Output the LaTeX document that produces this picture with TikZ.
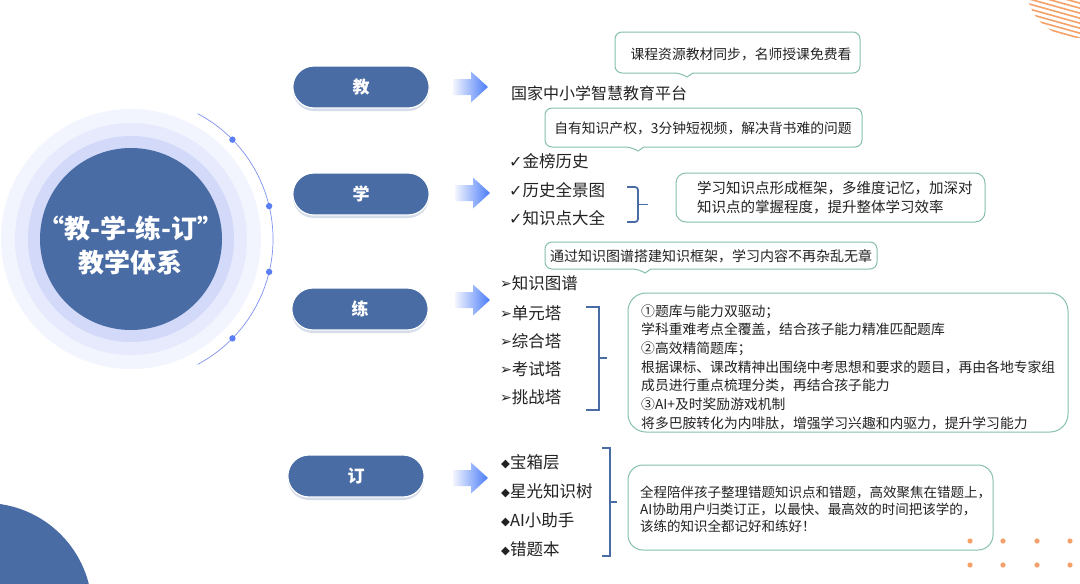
\documentclass[tikz,border=0pt]{standalone}
\usepackage{fontspec}
\setmainfont{Noto Sans CJK SC}
\newfontfamily\fuhao{DejaVu Sans}
\usetikzlibrary{positioning, shapes.misc, shadows}

\definecolor{zhulan}{HTML}{4A6CA5}
\definecolor{huan1}{HTML}{F3F5FE}
\definecolor{huan2}{HTML}{E6EAFC}
\definecolor{huan3}{HTML}{D2D9F9}
\definecolor{hulan}{HTML}{7F92EE}
\definecolor{dianlan}{HTML}{5B7EF2}
\definecolor{jtqian}{HTML}{F2F5FE}
\definecolor{jtshen}{HTML}{4A7CF8}
\definecolor{kuang}{HTML}{86BFAE}
\definecolor{wenzi}{HTML}{222222}
\definecolor{chengse}{HTML}{F5A26A}

\newcommand{\gou}{{\fuhao\fontsize{16}{16}\selectfont ✓}}
\newcommand{\jian}{{\fuhao\fontsize{14}{16}\selectfont\raisebox{0.5pt}{➢}}}
\newcommand{\ling}{{\fuhao\fontsize{11.5}{16}\selectfont\raisebox{1pt}{◆}}}

% 渐变箭头：起点x，中心y
\newcommand{\jiantou}[2]{%
  \shade[left color=jtqian, right color=jtshen]
    (#1,#2-8) -- (#1+18,#2-8) -- (#1+18,#2-15.5) -- (#1+35,#2)
    -- (#1+18,#2+15.5) -- (#1+18,#2+8) -- (#1,#2+8) -- cycle;}

% 气泡框：x1,y1,x2,y2,尖角x
\newcommand{\qipao}[5]{%
  \draw[kuangxian, fill=white] (#5+6,#4) [rounded corners=7pt] -- (#3,#4) -- (#3,#2)
    -- (#1,#2) -- (#1,#4) -- (#5-6,#4) [sharp corners] -- (#5,#4+4) -- cycle;}

\tikzset{
  yuanjiao/.style={rounded rectangle, fill=zhulan, draw=white, line width=1.2pt,
    minimum width=143pt, minimum height=42pt, text=white,
    font=\fontsize{17}{20}\selectfont\bfseries,
    drop shadow={shadow xshift=0pt, shadow yshift=-3pt, fill=zhulan!45, opacity=.5}},
  liebiao/.style={anchor=west, inner sep=0pt, text=wenzi, font=\fontsize{16.5}{20}\selectfont},
  kuangxian/.style={draw=kuang, line width=1pt},
  kuohao/.style={draw=zhulan, line width=1.8pt},
  tishi/.style={inner sep=0pt, text=wenzi, font=\fontsize{13.8}{17}\selectfont},
  shuoming/.style={anchor=west, inner sep=0pt, align=left, text=wenzi}
}

\begin{document}
\begin{tikzpicture}[x=1pt, y=-1pt]
  \useasboundingbox (0,0) rectangle (1080,584);
  \clip (0,0) rectangle (1080,584);
  \fill[white] (0,0) rectangle (1080,584);

  % 角上的装饰
  \begin{scope}
    \clip (1078,-14) circle (52);
    \foreach \k in {0,...,20}
      \draw[chengse, line width=1.6pt] (1015,{-45+5*\k}) -- (1140,{-45+5*\k+35});
  \end{scope}
  \fill[zhulan] (-15,610) circle (107);
  \foreach \hx in {970,1003,1037,1070}
    \foreach \hy in {541,565}
      \fill[chengse] (\hx,\hy) circle (2.6);

  % 左侧圆
  \fill[huan1] (131,239) circle (130);
  \fill[huan2] (131,239) circle (116);
  \fill[huan3] (131,239) circle (103);
  \fill[zhulan] (131,239) circle (91);
  \node[text=white, align=center, font=\fontsize{26}{34}\selectfont\bfseries] (zhuti) at (131,245)
    {“教-学-练-订”\\教学体系};
  \draw[hulan, line width=0.7pt] (131,239) ++(-62:142) arc[start angle=-62, end angle=62, radius=142];
  \foreach \jd in {-44.4,-13.4,13.4,44.4}
    \fill[dianlan] (131,239) ++(\jd:142) circle (3.2);

  % 四个环节
  \node[yuanjiao] (jiao) at (361,87) {教};
  \node[yuanjiao] (xue) at (361,194) {学};
  \node[yuanjiao] (lian) at (360,309) {练};
  \node[yuanjiao] (ding) at (356,476) {订};

  \jiantou{453}{87}
  \jiantou{455}{193}
  \jiantou{455}{300}
  \jiantou{453}{478}

  % 教
  \qipao{615}{32}{860}{73}{687}
  \node[tishi] (qp1) at (741,54) {课程资源教材同步，名师授课免费看};
  \node[liebiao, font=\fontsize{16}{20}\selectfont] (pingtai) at (511,93) {国家中小学智慧教育平台};

  % 学
  \qipao{545}{108}{862}{147}{638}
  \node[tishi] (qp2) at (703,128) {自有知识产权，3分钟短视频，解决背书难的问题};
  \node[liebiao] (jbls) at (509,161) {\gou 金榜历史};
  \node[liebiao] (lsqjt) at (509,190) {\gou 历史全景图};
  \node[liebiao] (zsddq) at (509,218) {\gou 知识点大全};
  \draw[kuohao, rounded corners=3pt] (627,187) -- (638,187) -- (638,222) -- (627,222);
  \draw[kuohao] (638,204.5) -- (648,204.5);
  \draw[kuangxian, rounded corners=10pt] (676,173) rectangle (985,222);
  \node[shuoming, font=\fontsize{14.5}{19}\selectfont] (xuebox) at (697,197.5)
    {学习知识点形成框架，多维度记忆，加深对\\知识点的掌握程度，提升整体学习效率};

  % 练
  \qipao{545}{242}{877}{269}{645}
  \node[tishi, font=\fontsize{14}{17}\selectfont] (qp3) at (711,256) {通过知识图谱搭建知识框架，学习内容不再杂乱无章};
  \node[liebiao] (zstp) at (500,283) {\jian 知识图谱};
  \node[liebiao] (dyt) at (500,313) {\jian 单元塔};
  \node[liebiao] (zht) at (500,341) {\jian 综合塔};
  \node[liebiao] (kst) at (500,369) {\jian 考试塔};
  \node[liebiao] (tzt) at (500,397) {\jian 挑战塔};
  \draw[kuohao] (586,307) -- (599,307) -- (599,410) -- (586,410);
  \draw[kuohao] (599,358) -- (607,358);
  \draw[kuangxian, rounded corners=18pt] (628,293) rectangle (1068,432);
  \node[shuoming, font=\fontsize{13.8}{18.7}\selectfont] (lianbox) at (641,367)
    {①题库与能力双驱动；\\
     学科重难考点全覆盖，结合孩子能力精准匹配题库\\
     ②高效精简题库；\\
     根据课标、课改精神出围绕中考思想和要求的题目，再由各地专家组\\
     成员进行重点梳理分类，再结合孩子能力\\
     ③AI+及时奖励游戏机制\\
     将多巴胺转化为内啡肽，增强学习兴趣和内驱力，提升学习能力};

  % 订
  \node[liebiao] (bxc) at (501,462) {\ling 宝箱层};
  \node[liebiao] (xgzss) at (501,491) {\ling 星光知识树};
  \node[liebiao] (aixzs) at (501,520) {\ling AI小助手};
  \node[liebiao] (ctb) at (501,549) {\ling 错题本};
  \draw[kuohao] (602,448) -- (610,448) -- (610,556) -- (602,556);
  \draw[kuohao] (610,502) -- (617,502);
  \draw[kuangxian, rounded corners=15pt] (628,465) rectangle (993,550);
  \node[shuoming, font=\fontsize{13.5}{17}\selectfont] (dingbox) at (640,509)
    {全程陪伴孩子整理错题知识点和错题，高效聚焦在错题上，\\
     AI协助用户归类订正，以最快、最高效的时间把该学的，\\
     该练的知识全都记好和练好！};
\end{tikzpicture}
\end{document}
